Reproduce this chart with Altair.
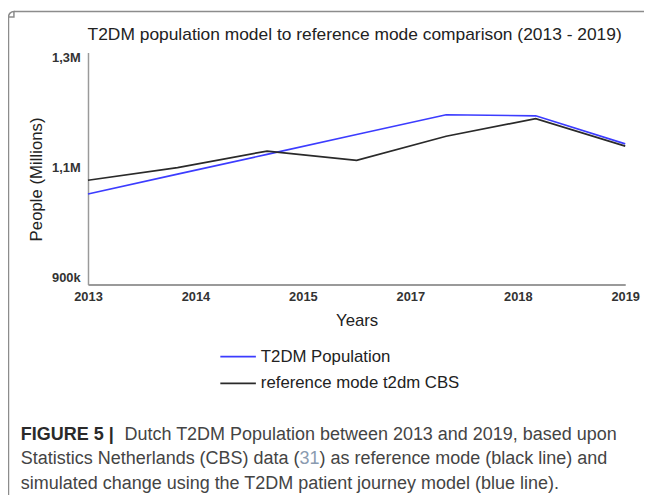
import altair as alt
import pandas as pd

# ---- data ----
years = [2013, 2014, 2015, 2016, 2017, 2018, 2019]
t2dm_population = [1052000, 1088000, 1124000, 1160000, 1196000, 1194000, 1143000]
reference_cbs = [1077000, 1100000, 1130000, 1113000, 1157000, 1189000, 1139000]
series_names = ["T2DM Population", "reference mode t2dm CBS"]
series_colors = ["#3c3cff", "#2a2a2a"]
x_tick_values = [2013, 2014.2, 2015.4, 2016.6, 2017.8, 2019]
y_tick_values = [900000, 1100000, 1300000]
title_text = "T2DM population model to reference mode comparison (2013 - 2019)"
caption_bold = "FIGURE 5 |"
caption_line1 = "Dutch T2DM Population between 2013 and 2019, based upon"
caption_line2a = "Statistics Netherlands (CBS) data ("
caption_ref = "31"
caption_line2b = ") as reference mode (black line) and"
caption_line3 = "simulated change using the T2DM patient journey model (blue line)."

FONT = "Liberation Sans"
W, H = 544, 235
CAP = 18.2

df = pd.DataFrame({
    "year": years * 2,
    "value": t2dm_population + reference_cbs,
    "series": [series_names[0]] * len(years) + [series_names[1]] * len(years),
})

y_label_expr = ("datum.value < 1000000 ? format(datum.value/1000,'d') + 'k' : "
                "replace(format(datum.value/1000000,'.1f'),'.',',') + 'M'")

lines = alt.Chart(df).mark_line(strokeWidth=1.7).encode(
    x=alt.X("year:Q",
            scale=alt.Scale(domain=[2013, 2019], nice=False, zero=False),
            axis=alt.Axis(values=x_tick_values,
                          labelExpr="format(round(datum.value),'d')",
                          title="Years", ticks=False, grid=False,
                          domainColor="#9a9a9a", domainWidth=2,
                          labelFont=FONT, labelFontWeight="bold", labelFontSize=13,
                          labelColor="#333333", labelPadding=6, labelFlush=False,
                          titleFont=FONT, titleFontSize=17, titleFontWeight="normal",
                          titleColor="#222222", titlePadding=9)),
    y=alt.Y("value:Q",
            scale=alt.Scale(domain=[887500, 1309000], nice=False, zero=False),
            axis=alt.Axis(values=y_tick_values, labelExpr=y_label_expr,
                          title="People (Millions)", ticks=False, grid=False,
                          domainColor="#9a9a9a", domainWidth=1.5,
                          labelFont=FONT, labelFontWeight="bold", labelFontSize=13,
                          labelColor="#333333", labelPadding=8,
                          titleFont=FONT, titleFontSize=17, titleFontWeight="normal",
                          titleColor="#222222", titleAngle=-90,
                          titleX=-52, titleY=128, titleAlign="center",
                          titleBaseline="middle")),
    color=alt.Color("series:N",
                    scale=alt.Scale(domain=series_names, range=series_colors),
                    legend=alt.Legend(title=None, orient="none", legendX=133, legendY=289,
                                      symbolType="stroke", symbolSize=1296,
                                      symbolStrokeWidth=1.7, labelFont=FONT,
                                      labelFontSize=17, labelColor="#222222",
                                      labelOffset=4, labelLimit=0, rowPadding=-9,
                                      padding=0)),
)

one = pd.DataFrame({"k": [0]})

# frame of the figure panel (left and top edges; the rest runs off the page)
frame_left = alt.Chart(one).mark_rule(stroke="#8c8c8c", strokeWidth=1.5).encode(
    x=alt.value(-80.5), y=alt.value(-36), y2=alt.value(520))
frame_top = alt.Chart(one).mark_rule(stroke="#8c8c8c", strokeWidth=1.5).encode(
    x=alt.value(-75), x2=alt.value(700), y=alt.value(-41.5))
frame_corner = alt.Chart(one).mark_arc(stroke="#8c8c8c", strokeWidth=1.5, fill=None,
                                       radius=5.5, theta=4.712, theta2=6.283).encode(
    x=alt.value(-75), y=alt.value(-36))

title = alt.Chart(one).mark_text(text=title_text, font=FONT, fontSize=17.6,
                                 color="#222222", align="center", baseline="middle").encode(
    x=alt.value(270), y=alt.value(-18))


def cap_text(txt, x, y, color="#444444", weight="normal"):
    return alt.Chart(one).mark_text(text=txt, font=FONT, fontSize=CAP, fontWeight=weight,
                                    color=color, align="left", baseline="middle").encode(
        x=alt.value(x), y=alt.value(y))


caps = [
    cap_text(caption_bold, -68, 387, "#2a2a2a", "bold"),
    cap_text(caption_line1, 37, 387),
    cap_text(caption_line2a, -68, 412),
    cap_text(caption_ref, -68 + 15.505 * CAP, 412, "#8a9bb0"),
    cap_text(caption_line2b, -68 + 16.617 * CAP, 412),
    cap_text(caption_line3, -68, 437),
]

chart = alt.layer(frame_left, frame_top, frame_corner, lines, title, *caps).properties(
    width=W, height=H,
    autosize=alt.AutoSizeParams(type="none"),
    padding={"left": 81, "top": 42, "right": 19, "bottom": 210},
).configure_view(stroke=None)

chart.save("out.html", embed_options={"renderer": "svg", "actions": False})
